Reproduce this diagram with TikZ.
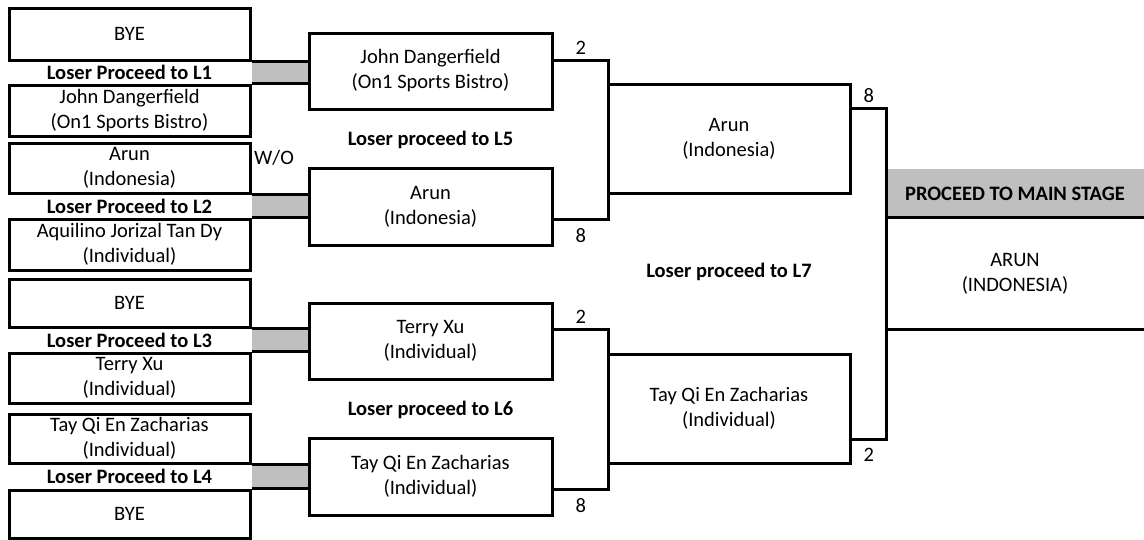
\documentclass[tikz,border=0pt]{standalone}
\usepackage{fontspec}
\setmainfont{Carlito}
\usepackage{xcolor}
\usetikzlibrary{backgrounds}
\definecolor{bandgray}{RGB}{191,191,191}
\newcommand\sheetsize{\fontsize{20.5}{25}\selectfont}
\tikzset{
	slot/.style={draw=black, line width=3pt, inner sep=0pt, align=center},
	seed/.style={slot, minimum width=241pt},
	match/.style={slot, minimum width=243pt, minimum height=76pt},
	semi/.style={slot, minimum width=242pt, minimum height=109pt},
	wire/.style={line width=3pt},
	note/.style={font=\sheetsize\bfseries},
	score/.style={inner sep=2pt},
}

\begin{document}
\begin{tikzpicture}[x=1pt, y=-1pt, font=\sheetsize]
		\useasboundingbox (0,0) rectangle (1144,539);

		\node[seed, minimum height=52pt] (e1) at (129.5,34) {BYE};
		\node[seed, minimum height=51pt] (e2) at (129.5,110.5) {John Dangerfield\\(On1 Sports Bistro)};
		\node[seed, minimum height=50pt] (e3) at (129.5,168) {Arun\\(Indonesia)};
		\node[seed, minimum height=51pt] (e4) at (129.5,244.5) {Aquilino Jorizal Tan Dy\\(Individual)};
		\node[seed, minimum height=48pt] (e5) at (129.5,303) {BYE};
		\node[seed, minimum height=50pt] (e6) at (129.5,378) {Terry Xu\\(Individual)};
		\node[seed, minimum height=49pt] (e7) at (129.5,438.5) {Tay Qi En Zacharias\\(Individual)};
		\node[seed, minimum height=48pt] (e8) at (129.5,514) {BYE};

		\node[note] (l1) at (129.5,72.5) {Loser Proceed to L1};
		\node[note] (l2) at (129.5,206) {Loser Proceed to L2};
		\node[note] (l3) at (129.5,340) {Loser Proceed to L3};
		\node[note] (l4) at (129.5,476) {Loser Proceed to L4};
		\node (wo) at (274,158) {W/O};

		\node[match] (r1) at (430.5,71) {John Dangerfield\\(On1 Sports Bistro)};
		\node[match, minimum height=77pt] (r2) at (430.5,206.5) {Arun\\(Indonesia)};
		\node[match] (r3) at (430.5,341) {Terry Xu\\(Individual)};
		\node[match, minimum height=77pt] (r4) at (430.5,476.5) {Tay Qi En Zacharias\\(Individual)};

		\node[note] (l5) at (430.5,140) {Loser proceed to L5};
		\node[note] (l6) at (430.5,410) {Loser proceed to L6};

		\begin{scope}[on background layer]
			\foreach \a/\b/\m in {e1/e2/r1, e3/e4/r2, e5/e6/r3, e7/e8/r4}
				\fill[bandgray] (\a.south east) rectangle (\b.north east -| \m.west);
		\end{scope}
		\foreach \a/\b/\m in {e1/e2/r1, e3/e4/r2, e5/e6/r3, e7/e8/r4} {
			\draw[wire] (\a.south east) -- (\a.south east -| \m.west);
			\draw[wire] (\b.north east) -- (\b.north east -| \m.west);
		}

		\node[semi] (q1) at (729,138.5) {Arun\\(Indonesia)};
		\node[semi] (q2) at (729,408.5) {Tay Qi En Zacharias\\(Individual)};
		\node[note] (l7) at (729,272) {Loser proceed to L7};

		\coordinate (t1) at (608,60);
		\coordinate (u1) at (608,219);
		\coordinate (t2) at (608,329);
		\coordinate (u2) at (608,489);
		\draw[wire] (r1.east |- t1) -- node[score, above=2pt] {2} (t1) -- (u1) -- node[score, below=6pt] {8} (r2.east |- u1);
		\draw[wire] (r3.east |- t2) -- node[score, above=2pt] {2} (t2) -- (u2) -- node[score, below=6pt] {8} (r4.east |- u2);

		\node[note, fill=bandgray, inner sep=0pt, minimum width=258pt, minimum height=49pt] (f0) at (1015,193.5) {PROCEED TO MAIN STAGE};
		\node[inner sep=0pt, minimum width=258pt, minimum height=111pt, align=center] (f1) at (1015,273.5) {ARUN\\(INDONESIA)};
		\draw[wire] (f1.north west) -- (f1.north east);
		\draw[wire] (f1.south west) -- (f1.south east);

		\coordinate (t3) at (886,108.5);
		\coordinate (u3) at (886,439);
		\draw[wire] (q1.east |- t3) -- node[score, above=2pt] {8} (t3) -- (u3) -- node[score, below=6pt] {2} (q2.east |- u3);
	\end{tikzpicture}
\end{document}
